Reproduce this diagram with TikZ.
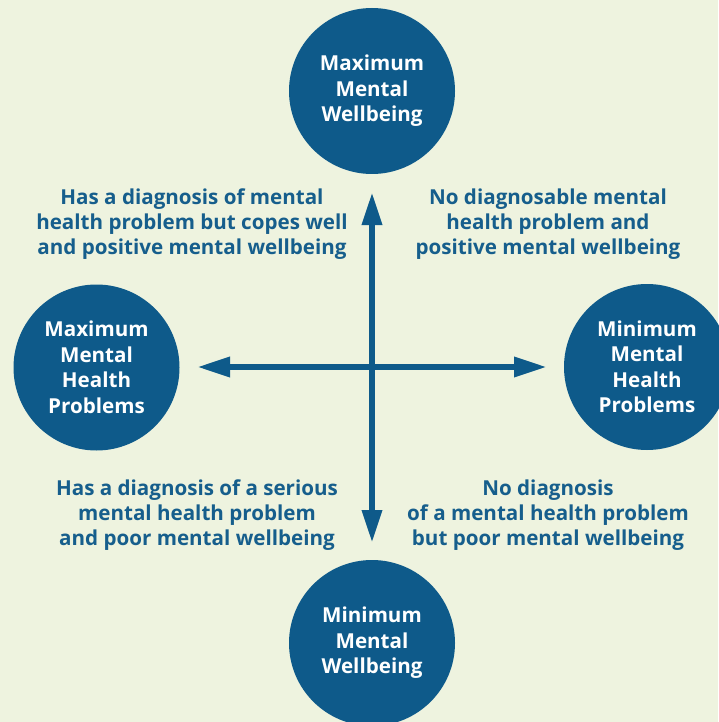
\documentclass[tikz,border=0pt]{standalone}
\usepackage{fontspec}
\setmainfont{Open Sans}
\usetikzlibrary{arrows.meta}
\definecolor{bgc}{RGB}{238,243,223}
\definecolor{circc}{RGB}{14,90,138}
\definecolor{txtc}{RGB}{22,94,140}
\begin{document}
\begin{tikzpicture}[x=1pt,y=-1pt,
  bubble/.style={circle,fill=circc,draw=none,minimum size=166pt,inner sep=0pt,
    text=white,align=center,font=\fontsize{20.6}{25.5}\selectfont\bfseries},
  quad/.style={text=txtc,align=center,inner sep=0pt,
    font=\fontsize{20.6}{25}\selectfont\bfseries},
  axis/.style={draw=circc,line width=6.5pt,
    arrows={Triangle[length=33pt,width=19pt]-Triangle[length=33pt,width=19pt]}}]
\fill[bgc] (0,0) rectangle (718,722);
\useasboundingbox (0,0) rectangle (718,722);
\node[bubble] (maxwb) at (372,91) {Maximum\\Mental\\Wellbeing};
\node[bubble] (minwb) at (372,643) {Minimum\\Mental\\Wellbeing};
\node[bubble] (maxhp) at (96.5,367.5) {Maximum\\Mental\\Health\\Problems};
\node[bubble] (minhp) at (647,367) {Minimum\\Mental\\Health\\Problems};
\coordinate (vt) at (372,192);
\coordinate (vb) at (372,543);
\coordinate (hl) at (197,367);
\coordinate (hr) at (547,367);
\draw[axis] (hl) -- (hr);
\draw[axis] (vb) -- (vt);
\node[quad] (tl) at (192,224) {Has a diagnosis of mental\\health problem but copes well\\and positive mental wellbeing};
\node[quad] (tr) at (548,224) {No diagnosable mental\\health problem and\\positive mental wellbeing};
\node[quad] (bl) at (197,515) {Has a diagnosis of a serious\\mental health problem\\and poor mental wellbeing};
\node[quad] (br) at (548,515) {No diagnosis\\of a mental health problem\\but poor mental wellbeing};
\end{tikzpicture}
\end{document}
